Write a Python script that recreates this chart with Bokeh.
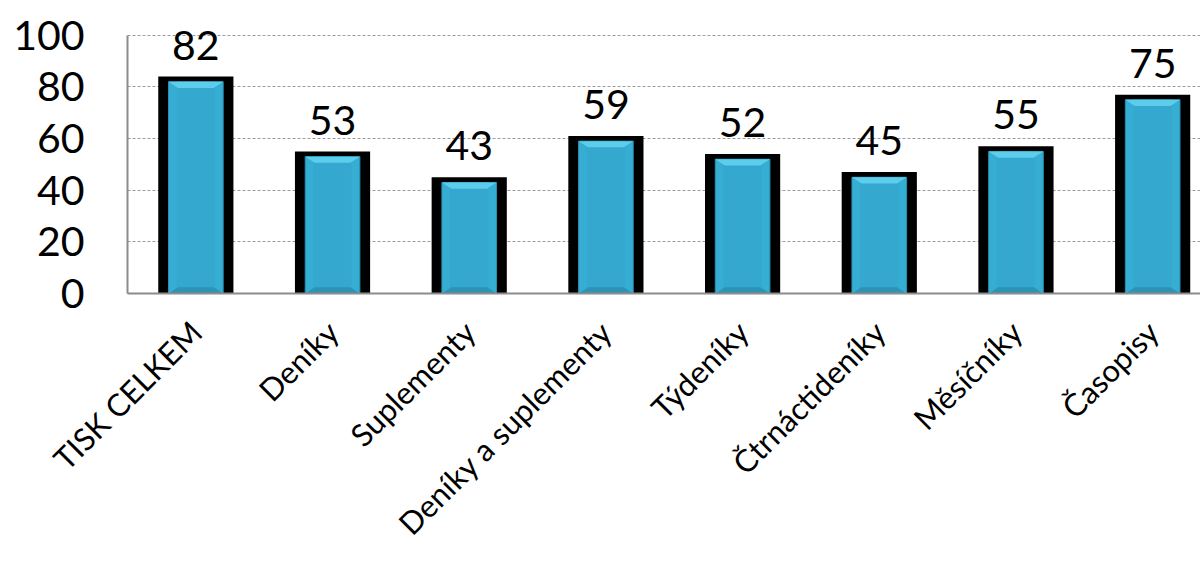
import math
from bokeh.plotting import figure
from bokeh.models import ColumnDataSource, LabelSet, FixedTicker
from bokeh.core.properties import value
from bokeh.embed import file_html
from bokeh.resources import INLINE

categories = ["TISK CELKEM", "Deníky", "Suplementy", "Deníky a suplementy",
              "Týdeníky", "Čtrnáctideníky", "Měsíčníky", "Časopisy"]
values = [82, 53, 43, 59, 52, 45, 55, 75]
y_ticks = [0, 20, 40, 60, 80, 100]

xs = [i + 0.5 for i in range(len(categories))]
src = ColumnDataSource(dict(
    x=xs, v=values, lab=[str(v) for v in values],
    shadow=[v + 2 for v in values],
))

# top / bottom bevel trapezoids derived from the bar values
bw = 0.40
bev_x = [[x - bw / 2, x + bw / 2, x + bw / 2 - 0.07, x - bw / 2 + 0.07] for x in xs]
bev_y = [[v, v, v - 2.4, v - 2.4] for v in values]
bot_y = [[0, 0, 2.4, 2.4] for v in values]

FONT = "Lato"

p = figure(width=1200, height=558, x_range=(0, 7.85), y_range=(0, 103),
           output_backend="svg", toolbar_location=None,
           min_border_left=127, min_border_top=27, min_border_bottom=250,
           min_border_right=0)
p.outline_line_color = None

# bars: black shadow, cyan body, lighter top bevel
p.vbar(x="x", top="shadow", bottom=0, width=0.55, source=src,
       fill_color="black", line_color=None)
p.vbar(x="x", top="v", bottom=0, width=bw, source=src,
       fill_color="#36add3", line_color="#2b8fb0", line_width=1)
p.vbar(x="x", top="v", bottom=0, width=bw * 0.7, source=src,
       fill_color="#34a8ce", line_color=None)
p.patches(bev_x, bev_y, fill_color="#5dcdec", line_color=None)
p.patches(bev_x, bot_y, fill_color="#2c93b4", line_color=None)

labels = LabelSet(x="x", y="v", text="lab", source=src, y_offset=22,
                  text_align="center", text_baseline="alphabetic",
                  text_font=value(FONT), text_font_size="41px",
                  text_color="black")
p.add_layout(labels)

# axes
p.xaxis.ticker = FixedTicker(ticks=xs)
p.xaxis.major_label_overrides = {x: c for x, c in zip(xs, categories)}
p.xaxis.major_label_orientation = math.pi / 4
p.xaxis.major_label_text_font = FONT
p.xaxis.major_label_text_font_size = "31px"
p.xaxis.major_label_text_color = "black"
p.xaxis.major_label_standoff = 27
p.xaxis.major_tick_line_color = None
p.xaxis.minor_tick_line_color = None
p.xaxis.axis_line_color = "#8c8c8c"
p.xaxis.axis_line_width = 2

p.yaxis.ticker = FixedTicker(ticks=y_ticks)
p.yaxis.bounds = (0, 100)
p.yaxis.major_label_text_font = FONT
p.yaxis.major_label_text_font_size = "41px"
p.yaxis.major_label_text_color = "black"
p.yaxis.major_label_standoff = 37
p.yaxis.major_tick_line_color = None
p.yaxis.minor_tick_line_color = None
p.yaxis.axis_line_color = "#8c8c8c"
p.yaxis.axis_line_width = 2

p.xgrid.grid_line_color = None
p.ygrid.ticker = FixedTicker(ticks=y_ticks)
p.ygrid.grid_line_color = "#9a9a9a"
p.ygrid.grid_line_dash = "3 2"
p.ygrid.grid_line_width = 1

open("out.html", "w").write(file_html(p, INLINE))
